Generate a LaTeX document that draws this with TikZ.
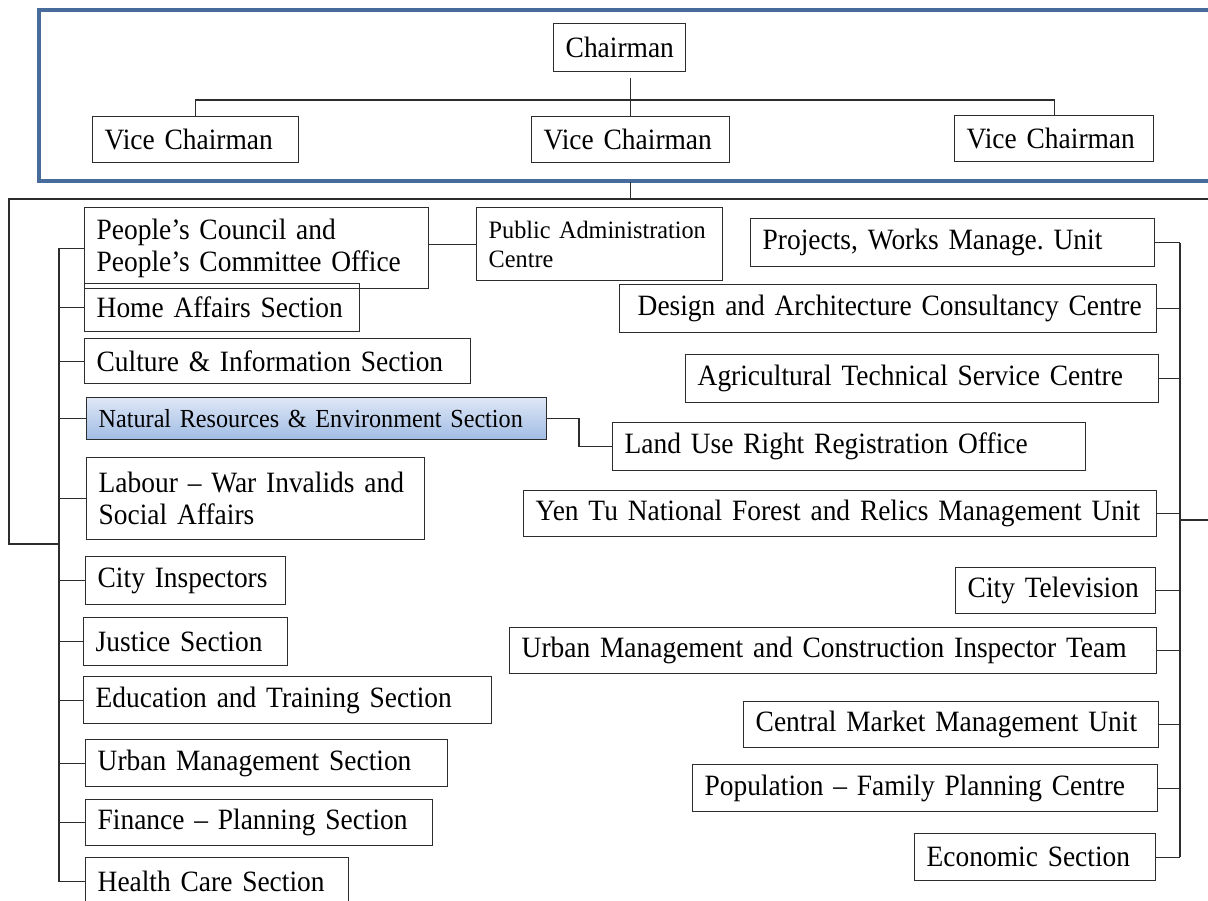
\documentclass[tikz,border=0pt]{standalone}
\usepackage{fontspec}
\setmainfont{Liberation Serif}[FakeStretch=0.93]
\newfontfamily\pafont{Liberation Serif}[FakeStretch=0.97]
\usetikzlibrary{calc}
\definecolor{frameblue}{RGB}{71,108,155}
\definecolor{ln}{RGB}{45,45,45}
\definecolor{nrtop}{RGB}{222,231,246}
\definecolor{nrbot}{RGB}{160,188,228}
\tikzset{
  box/.style={draw=ln, line width=1.4pt, anchor=north west, inner xsep=12pt, inner ysep=0pt,
    align=left, font=\fontsize{29.5}{32}\selectfont\frenchspacing},
  conn/.style={draw=ln, line width=1.3pt},
  frameline/.style={draw=frameblue, line width=3.5pt},
}
\begin{document}
\begin{tikzpicture}[x=1pt,y=-1pt]
\useasboundingbox (0,0) rectangle (1208,901);
\clip (0,0) rectangle (1208,901);

% top frame
\draw[frameline] (1240,10) -- (39,10) -- (39,181) -- (1240,181);

% top nodes
\node[box, align=center, minimum width=132pt, minimum height=48pt, text width=108pt] (ch) at (553,23) {Chairman};
\node[box, minimum width=206pt, minimum height=46pt, text width=182pt] (vc1) at (92,116) {Vice Chairman};
\node[box, minimum width=198pt, minimum height=46pt, text width=174pt] (vc2) at (531,116) {Vice Chairman};
\node[box, minimum width=199pt, minimum height=46pt, text width=175pt] (vc3) at (954,115) {Vice Chairman};

\coordinate (barY) at (0,100);
\coordinate (frameBot) at (0,182);
\coordinate (lineY) at (0,199);
\draw[conn] ($(vc2.north |- ch.south)+(0,6)$) -- (vc2.north);
\draw[conn] (vc1.north) -- (vc1.north |- barY) -- (vc3.north |- barY) -- (vc3.north);

% left column
\node[box, minimum width=344pt, minimum height=81pt, text width=320pt] (pc) at (84,207) {People’s Council and\\People’s Committee Office};
\node[box, minimum width=246pt, minimum height=73pt, text width=222pt, font=\pafont\fontsize{25}{29}\selectfont] (pa) at (476,207) {Public Administration\\Centre};
\node[box, minimum width=275pt, minimum height=48pt, text width=251pt] (ha) at (84,283) {Home Affairs Section};
\node[box, minimum width=386pt, minimum height=45pt, text width=362pt] (ci) at (84,338) {Culture \& Information Section};
\node[box, top color=nrtop, bottom color=nrbot, minimum width=460pt, minimum height=42pt, text width=444pt, inner xsep=8pt, font=\fontsize{26}{30}\selectfont] (nr) at (86,397) {\mbox{\hspace{4pt}Natural Resources \& Environment Section}};
\node[box, minimum width=338pt, minimum height=82pt, text width=314pt] (lb) at (86,457) {Labour – War Invalids and\\Social Affairs};
\node[box, minimum width=200pt, minimum height=48pt, text width=176pt] (cin) at (85,556) {City Inspectors};
\node[box, minimum width=204pt, minimum height=48pt, text width=180pt] (js) at (83,617) {Justice Section};
\node[box, minimum width=408pt, minimum height=47pt, text width=384pt] (et) at (83,676) {Education and Training Section};
\node[box, minimum width=362pt, minimum height=47pt, text width=338pt] (um) at (85,739) {Urban Management Section};
\node[box, minimum width=347pt, minimum height=46pt, text width=323pt] (fp) at (85,799) {Finance – Planning Section};
\node[box, minimum width=263pt, minimum height=48pt, text width=239pt] (hc) at (85,857) {Health Care Section};

% right column
\node[box, minimum width=404pt, minimum height=48pt, text width=380pt] (pw) at (750,218) {Projects, Works Manage. Unit};
\node[box, minimum width=537pt, minimum height=48pt, text width=513pt] (da) at (619,284) {\mbox{\hspace{6pt}Design and Architecture Consultancy Centre}};
\node[box, minimum width=473pt, minimum height=48pt, text width=449pt] (at) at (685,354) {Agricultural Technical Service Centre};
\node[box, minimum width=473pt, minimum height=48pt, text width=449pt] (lu) at (612,422) {Land Use Right Registration Office};
\node[box, minimum width=633pt, minimum height=46pt, text width=609pt] (yt) at (523,490) {\mbox{Yen Tu National Forest and Relics Management Unit}};
\node[box, minimum width=200pt, minimum height=46pt, text width=176pt] (ct) at (955,567) {City Television};
\node[box, minimum width=647pt, minimum height=46pt, text width=623pt] (uc) at (509,627) {\mbox{Urban Management and Construction Inspector Team}};
\node[box, minimum width=415pt, minimum height=46pt, text width=391pt] (cm) at (743,701) {Central Market Management Unit};
\node[box, minimum width=465pt, minimum height=47pt, text width=441pt] (pf) at (692,764) {Population – Family Planning Centre};
\node[box, minimum width=241pt, minimum height=47pt, text width=217pt] (ec) at (914,833) {Economic Section};

% main distribution line
\coordinate (hub) at (vc2.south |- lineY);
\coordinate (offR) at (1240,199);
\coordinate (lc1) at (9,199);
\coordinate (lc2) at (9,544);
\coordinate (lsx) at (59,0);
\coordinate (rsx) at (1180,0);
\coordinate (offR2) at (1240,520);
\draw[conn] (vc2.south |- frameBot) -- (hub);
\draw[conn] (offR) -- (lc1) -- (lc2) -- (lsx |- lc2);

% left spine
\draw[conn] (lsx |- pc.west) -- (lsx |- hc.west);
\foreach \n in {pc,ha,ci,nr,lb,cin,js,et,um,fp,hc}
  \draw[conn] (lsx |- \n.west) -- (\n.west);

% right spine
\draw[conn] (rsx |- pw.east) -- (rsx |- ec.east);
\foreach \n in {pw,da,at,yt,ct,uc,cm,pf,ec}
  \draw[conn] (\n.east) -- (rsx |- \n.east);
\draw[conn] (rsx |- offR2) -- (offR2);

% side links
\draw[conn] (pc.east |- pa.west) -- (pa.west);
\coordinate (elbow) at (579,0);
\draw[conn] (nr.east) -- (elbow |- nr.east) -- (elbow |- lu.west) -- (lu.west);
\end{tikzpicture}
\end{document}
